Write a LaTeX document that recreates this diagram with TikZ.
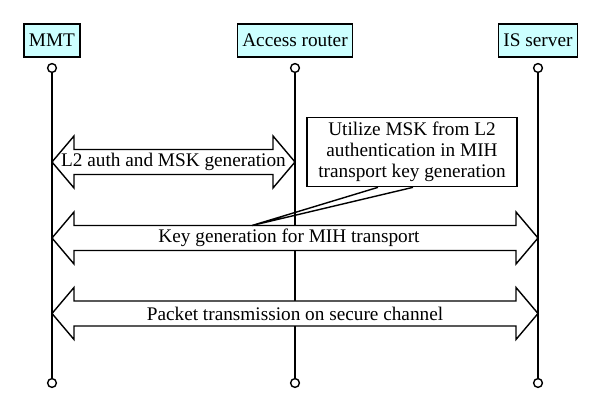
\documentclass[tikz,border=0pt]{standalone}
\usepackage{fontspec}
\setmainfont{Liberation Serif}
\usetikzlibrary{calc}
\definecolor{hdrcyan}{RGB}{204,255,255}

\begin{document}
\begin{tikzpicture}[x=0.025cm, y=-0.025cm, line width=1pt,
    hdr/.style={draw, fill=hdrcyan, minimum height=0.825cm, inner xsep=3.5pt,
                font=\fontsize{13.7}{15}\selectfont},
    endpt/.style={draw, circle, fill=white, inner sep=0pt, minimum size=0.22cm},
    notebox/.style={draw, fill=white, align=center, minimum width=5.25cm,
                    minimum height=1.7cm, font=\fontsize{13.7}{15}\selectfont}]
    \useasboundingbox (0,0) rectangle (600,412);
    \def\hw{26}   % head half height
    \def\sw{12.5} % shaft half height
    \def\hl{22}   % head length

    % entities and life lines
    \foreach \name/\x/\txt in {mmt/52/MMT, ar/295/Access router, is/538/IS server}{
      \node[hdr] (\name) at (\x,40.5) {\txt};
      \node[endpt] (\name Top) at (\x,68) {};
      \node[endpt] (\name Bot) at (\x,383) {};
      \draw (\name Top) -- (\name Bot);
    }

    % block arrows
    \foreach \y/\xa/\xb/\dx/\txt [count=\i] in {162/52/295/0/{L2 auth and MSK generation},
                                               238/52/538/-6/{Key generation for MIH transport},
                                               313.5/52/538/0/{Packet transmission on secure channel}}{
      \draw[fill=white] (\xa,\y) -- (\xa+\hl,\y-\hw) -- (\xa+\hl,\y-\sw)
        -- (\xb-\hl,\y-\sw) -- (\xb-\hl,\y-\hw) -- (\xb,\y)
        -- (\xb-\hl,\y+\hw) -- (\xb-\hl,\y+\sw) -- (\xa+\hl,\y+\sw)
        -- (\xa+\hl,\y+\hw) -- cycle;
      \node[font=\fontsize{13.7}{15}\selectfont] (msg\i) at ({(\xa+\xb)/2+\dx},\y) {\txt};
    }

    % note
    \node[notebox] (note) at (412,152) {Utilize MSK from L2\\authentication in MIH\\transport key generation};
    \coordinate (tail) at (252,225.5);
    \draw ($(note.south)+(-34,0)$) -- (tail) -- ($(note.south)+(1,0)$);
\end{tikzpicture}
\end{document}
